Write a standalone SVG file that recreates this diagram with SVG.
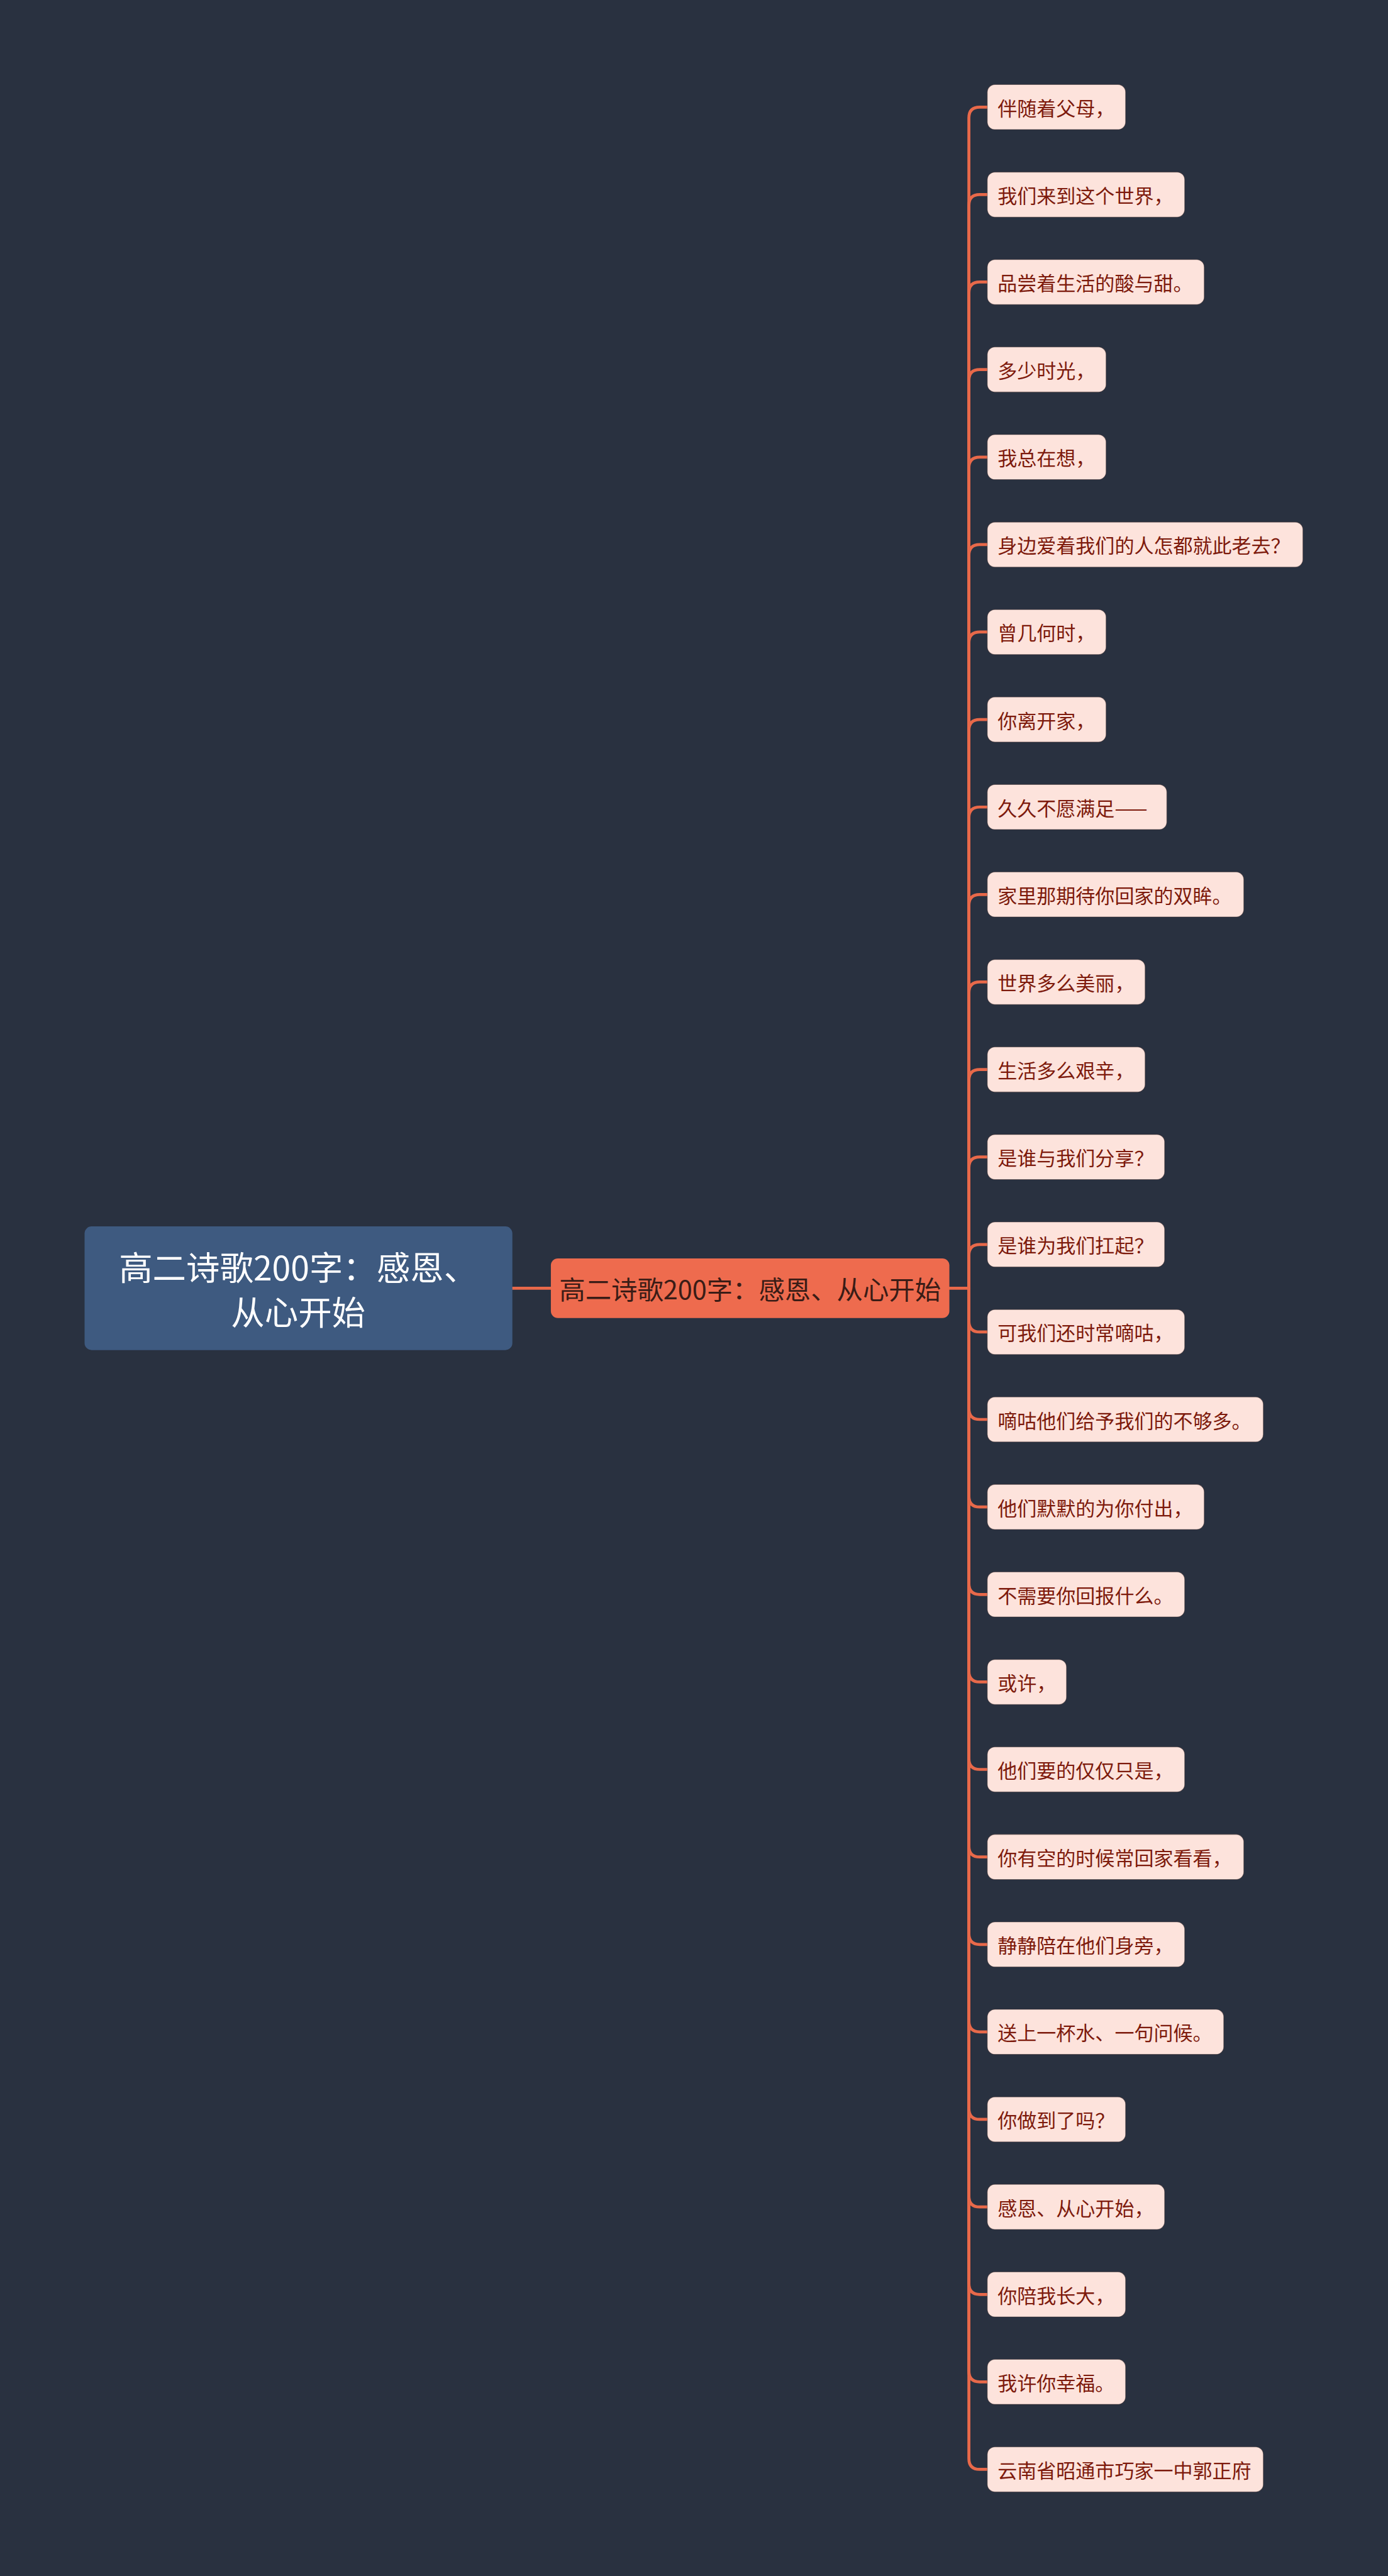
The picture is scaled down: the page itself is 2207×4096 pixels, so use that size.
<svg xmlns="http://www.w3.org/2000/svg" width="2207" height="4096" viewBox="0 0 2207 4096">
<style>
.leaf rect{fill:#fde3dc;stroke:#3a2a2a;stroke-width:1.2;stroke-opacity:0.5}
.leaf text{fill:#7d1a0c;font-family:"Noto Sans CJK SC","Liberation Sans",sans-serif;font-size:36px;dominant-baseline:central}
.conn path{fill:none;stroke:#e8694a;stroke-width:5.5;stroke-linecap:round}
</style>
<rect x="0" y="0" width="2207" height="4096" fill="#293140"/>
<g transform="scale(0.86211)">
<g id="connectors" class="conn">
<path d="M945 2376 H1016"/>
<path d="M1751 2376 H1787"/>
<path d="M1787 2376 V217.5 Q1787 197.5 1807 197.5 H1821"/>
<path d="M1787 2376 V378.9 Q1787 358.9 1807 358.9 H1821"/>
<path d="M1787 2376 V540.2 Q1787 520.2 1807 520.2 H1821"/>
<path d="M1787 2376 V701.6 Q1787 681.6 1807 681.6 H1821"/>
<path d="M1787 2376 V863 Q1787 843 1807 843 H1821"/>
<path d="M1787 2376 V1024.4 Q1787 1004.4 1807 1004.4 H1821"/>
<path d="M1787 2376 V1185.7 Q1787 1165.7 1807 1165.7 H1821"/>
<path d="M1787 2376 V1347.1 Q1787 1327.1 1807 1327.1 H1821"/>
<path d="M1787 2376 V1508.5 Q1787 1488.5 1807 1488.5 H1821"/>
<path d="M1787 2376 V1669.8 Q1787 1649.8 1807 1649.8 H1821"/>
<path d="M1787 2376 V1831.2 Q1787 1811.2 1807 1811.2 H1821"/>
<path d="M1787 2376 V1992.6 Q1787 1972.6 1807 1972.6 H1821"/>
<path d="M1787 2376 V2153.9 Q1787 2133.9 1807 2133.9 H1821"/>
<path d="M1787 2376 V2315.3 Q1787 2295.3 1807 2295.3 H1821"/>
<path d="M1787 2376 V2436.7 Q1787 2456.7 1807 2456.7 H1821"/>
<path d="M1787 2376 V2598 Q1787 2618 1807 2618 H1821"/>
<path d="M1787 2376 V2759.4 Q1787 2779.4 1807 2779.4 H1821"/>
<path d="M1787 2376 V2920.8 Q1787 2940.8 1807 2940.8 H1821"/>
<path d="M1787 2376 V3082.2 Q1787 3102.2 1807 3102.2 H1821"/>
<path d="M1787 2376 V3243.5 Q1787 3263.5 1807 3263.5 H1821"/>
<path d="M1787 2376 V3404.9 Q1787 3424.9 1807 3424.9 H1821"/>
<path d="M1787 2376 V3566.3 Q1787 3586.3 1807 3586.3 H1821"/>
<path d="M1787 2376 V3727.6 Q1787 3747.6 1807 3747.6 H1821"/>
<path d="M1787 2376 V3889 Q1787 3909 1807 3909 H1821"/>
<path d="M1787 2376 V4050.4 Q1787 4070.4 1807 4070.4 H1821"/>
<path d="M1787 2376 V4211.8 Q1787 4231.8 1807 4231.8 H1821"/>
<path d="M1787 2376 V4373.1 Q1787 4393.1 1807 4393.1 H1821"/>
<path d="M1787 2376 V4534.5 Q1787 4554.5 1807 4554.5 H1821"/>
</g>
<g id="root">
<rect x="156" y="2262" width="789" height="228" rx="13" fill="#3e5a80"/>
<text x="550" y="2334" text-anchor="middle" dominant-baseline="central" fill="#ffffff" font-family="'Noto Sans CJK SC','Liberation Sans',sans-serif" font-size="62">高二诗歌200字：感恩、</text>
<text x="550" y="2417" text-anchor="middle" dominant-baseline="central" fill="#ffffff" font-family="'Noto Sans CJK SC','Liberation Sans',sans-serif" font-size="62">从心开始</text>
</g>
<g id="main">
<rect x="1016" y="2321" width="735" height="110" rx="13" fill="#ee6b4e"/>
<text x="1383.5" y="2376" text-anchor="middle" dominant-baseline="central" fill="#3a1c16" font-family="'Noto Sans CJK SC','Liberation Sans',sans-serif" font-size="48">高二诗歌200字：感恩、从心开始</text>
</g>
<g id="leaf1" class="leaf"><rect x="1821" y="156" width="255" height="83" rx="14"/><text x="1840" y="197.5">伴随着父母，</text></g>
<g id="leaf2" class="leaf"><rect x="1821" y="317.4" width="364" height="83" rx="14"/><text x="1840" y="358.9">我们来到这个世界，</text></g>
<g id="leaf3" class="leaf"><rect x="1821" y="478.7" width="400" height="83" rx="14"/><text x="1840" y="520.2">品尝着生活的酸与甜。</text></g>
<g id="leaf4" class="leaf"><rect x="1821" y="640.1" width="219" height="83" rx="14"/><text x="1840" y="681.6">多少时光，</text></g>
<g id="leaf5" class="leaf"><rect x="1821" y="801.5" width="219" height="83" rx="14"/><text x="1840" y="843">我总在想，</text></g>
<g id="leaf6" class="leaf"><rect x="1821" y="962.9" width="582" height="83" rx="14"/><text x="1840" y="1004.4">身边爱着我们的人怎都就此老去？</text></g>
<g id="leaf7" class="leaf"><rect x="1821" y="1124.2" width="219" height="83" rx="14"/><text x="1840" y="1165.7">曾几何时，</text></g>
<g id="leaf8" class="leaf"><rect x="1821" y="1285.6" width="219" height="83" rx="14"/><text x="1840" y="1327.1">你离开家，</text></g>
<g id="leaf9" class="leaf"><rect x="1821" y="1447" width="331" height="83" rx="14"/><text x="1840" y="1488.5">久久不愿满足——</text></g>
<g id="leaf10" class="leaf"><rect x="1821" y="1608.3" width="473" height="83" rx="14"/><text x="1840" y="1649.8">家里那期待你回家的双眸。</text></g>
<g id="leaf11" class="leaf"><rect x="1821" y="1769.7" width="291" height="83" rx="14"/><text x="1840" y="1811.2">世界多么美丽，</text></g>
<g id="leaf12" class="leaf"><rect x="1821" y="1931.1" width="291" height="83" rx="14"/><text x="1840" y="1972.6">生活多么艰辛，</text></g>
<g id="leaf13" class="leaf"><rect x="1821" y="2092.4" width="327" height="83" rx="14"/><text x="1840" y="2133.9">是谁与我们分享？</text></g>
<g id="leaf14" class="leaf"><rect x="1821" y="2253.8" width="327" height="83" rx="14"/><text x="1840" y="2295.3">是谁为我们扛起？</text></g>
<g id="leaf15" class="leaf"><rect x="1821" y="2415.2" width="364" height="83" rx="14"/><text x="1840" y="2456.7">可我们还时常嘀咕，</text></g>
<g id="leaf16" class="leaf"><rect x="1821" y="2576.5" width="509" height="83" rx="14"/><text x="1840" y="2618">嘀咕他们给予我们的不够多。</text></g>
<g id="leaf17" class="leaf"><rect x="1821" y="2737.9" width="400" height="83" rx="14"/><text x="1840" y="2779.4">他们默默的为你付出，</text></g>
<g id="leaf18" class="leaf"><rect x="1821" y="2899.3" width="364" height="83" rx="14"/><text x="1840" y="2940.8">不需要你回报什么。</text></g>
<g id="leaf19" class="leaf"><rect x="1821" y="3060.7" width="146" height="83" rx="14"/><text x="1840" y="3102.2">或许，</text></g>
<g id="leaf20" class="leaf"><rect x="1821" y="3222" width="364" height="83" rx="14"/><text x="1840" y="3263.5">他们要的仅仅只是，</text></g>
<g id="leaf21" class="leaf"><rect x="1821" y="3383.4" width="473" height="83" rx="14"/><text x="1840" y="3424.9">你有空的时候常回家看看，</text></g>
<g id="leaf22" class="leaf"><rect x="1821" y="3544.8" width="364" height="83" rx="14"/><text x="1840" y="3586.3">静静陪在他们身旁，</text></g>
<g id="leaf23" class="leaf"><rect x="1821" y="3706.1" width="436" height="83" rx="14"/><text x="1840" y="3747.6">送上一杯水、一句问候。</text></g>
<g id="leaf24" class="leaf"><rect x="1821" y="3867.5" width="255" height="83" rx="14"/><text x="1840" y="3909">你做到了吗？</text></g>
<g id="leaf25" class="leaf"><rect x="1821" y="4028.9" width="327" height="83" rx="14"/><text x="1840" y="4070.4">感恩、从心开始，</text></g>
<g id="leaf26" class="leaf"><rect x="1821" y="4190.3" width="255" height="83" rx="14"/><text x="1840" y="4231.8">你陪我长大，</text></g>
<g id="leaf27" class="leaf"><rect x="1821" y="4351.6" width="255" height="83" rx="14"/><text x="1840" y="4393.1">我许你幸福。</text></g>
<g id="leaf28" class="leaf"><rect x="1821" y="4513" width="509" height="83" rx="14"/><text x="1840" y="4554.5">云南省昭通市巧家一中郭正府</text></g>
</g>
</svg>
